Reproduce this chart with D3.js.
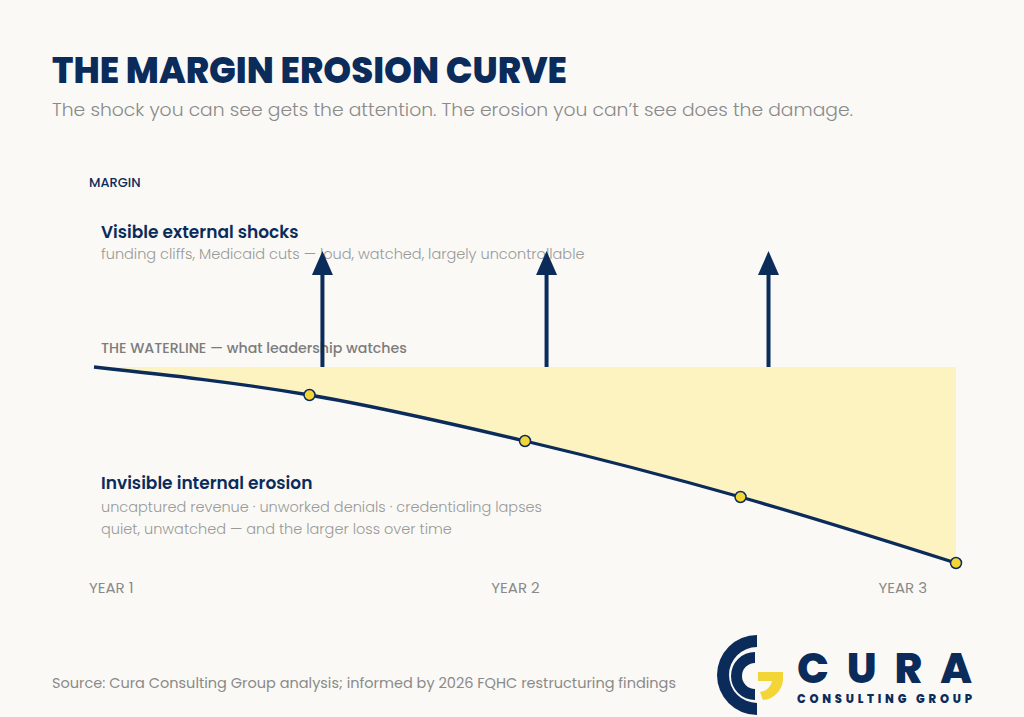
<!DOCTYPE html>
<html>
  <head>
    <meta charset="UTF-8">
    <script src="https://cdn.jsdelivr.net/npm/d3@7"></script>
    <style>
      html, body { margin: 0; padding: 0; background: #faf9f5; }
      svg { display: block; font-family: Poppins, Inter, "Noto Sans", sans-serif; }
    </style>
  </head>
  <body>
    <svg id="chart" width="1024" height="717"></svg>
    <script type="text/javascript">
      // data
      var years = [1, 1.5, 2, 2.5, 3];
      var margin = [0, -0.7, -1.85, -3.25, -4.9];   // drop below the waterline
      var shockYears = [1.53, 2.05, 2.565];
      var shockSize = [2.9, 2.9, 2.9];
      var yearTicks = [1, 2, 3];
      var yearLabels = ['YEAR 1', 'YEAR 2', 'YEAR 3'];

      var navy = '#0b2b5b';
      var grey = '#8a8a8a';

      var svg = d3.select('#chart');

      var x = d3.scaleLinear().domain([1, 3]).range([94, 956]);
      var y = d3.scaleLinear().domain([-5, 0]).range([567, 367]);

      var pts = years.map(function(d, i) { return { x: d, v: margin[i] }; });

      // title block
      svg.append('text').attr('x', 52).attr('y', 83)
        .attr('font-size', 36).attr('font-weight', 800).attr('fill', navy)
        .attr('textLength', 515).attr('lengthAdjust', 'spacingAndGlyphs')
        .text('THE MARGIN EROSION CURVE');
      svg.append('text').attr('x', 52).attr('y', 116)
        .attr('font-size', 18).attr('font-weight', 300).attr('fill', grey)
        .attr('textLength', 801).attr('lengthAdjust', 'spacingAndGlyphs')
        .text('The shock you can see gets the attention. The erosion you can\u2019t see does the damage.');

      svg.append('text').attr('x', 89).attr('y', 187)
        .attr('font-size', 13).attr('font-weight', 500).attr('fill', navy)
        .text('MARGIN');

      // erosion area between waterline and curve
      var area = d3.area()
        .x(function(d) { return x(d.x); })
        .y0(y(0))
        .y1(function(d) { return y(d.v); })
        .curve(d3.curveMonotoneX);
      svg.append('path').datum(pts)
        .attr('d', area)
        .attr('fill', '#fdf3c0');

      // labels
      svg.append('text').attr('x', 101).attr('y', 238)
        .attr('font-size', 17).attr('font-weight', 600).attr('fill', navy)
        .text('Visible external shocks');
      svg.append('text').attr('x', 101).attr('y', 259)
        .attr('font-size', 14.5).attr('font-weight', 300).attr('fill', '#999')
        .text('funding cliffs, Medicaid cuts \u2014 loud, watched, largely uncontrollable');
      svg.append('text').attr('x', 101).attr('y', 353)
        .attr('font-size', 14.2).attr('font-weight', 500).attr('fill', '#7c7c7c')
        .text('THE WATERLINE \u2014 what leadership watches');

      svg.append('text').attr('x', 101).attr('y', 489)
        .attr('font-size', 17).attr('font-weight', 600).attr('fill', navy)
        .text('Invisible internal erosion');
      svg.append('text').attr('x', 101).attr('y', 512)
        .attr('font-size', 14.5).attr('font-weight', 300).attr('fill', '#999')
        .text('uncaptured revenue \u00b7 unworked denials \u00b7 credentialing lapses');
      svg.append('text').attr('x', 101).attr('y', 534)
        .attr('font-size', 14.5).attr('font-weight', 300).attr('fill', '#999')
        .text('quiet, unwatched \u2014 and the larger loss over time');

      // shock arrows
      var arrows = svg.selectAll('g.shock')
        .data(shockYears.map(function(d, i) { return { x: d, v: shockSize[i] }; }))
        .enter().append('g').attr('class', 'shock');
      arrows.append('line')
        .attr('x1', function(d) { return x(d.x); })
        .attr('x2', function(d) { return x(d.x); })
        .attr('y1', y(0))
        .attr('y2', function(d) { return y(d.v) + 20; })
        .attr('stroke', navy).attr('stroke-width', 4);
      arrows.append('path')
        .attr('d', function(d) {
          var cx = x(d.x), tip = y(d.v);
          return 'M' + cx + ',' + tip + 'L' + (cx + 10.5) + ',' + (tip + 24) +
            'L' + (cx - 10.5) + ',' + (tip + 24) + 'Z';
        })
        .attr('fill', navy);

      // erosion curve
      var line = d3.line()
        .x(function(d) { return x(d.x); })
        .y(function(d) { return y(d.v); })
        .curve(d3.curveMonotoneX);
      svg.append('path').datum(pts)
        .attr('d', line)
        .attr('fill', 'none').attr('stroke', navy).attr('stroke-width', 3.3);

      svg.selectAll('circle.pt').data(pts.slice(1))
        .enter().append('circle').attr('class', 'pt')
        .attr('cx', function(d) { return x(d.x); })
        .attr('cy', function(d) { return y(d.v); })
        .attr('r', 5.5)
        .attr('fill', '#f3d537').attr('stroke', navy).attr('stroke-width', 1.5);

      // year axis labels
      var anchors = ['start', 'middle', 'end'];
      var offsets = [-5, -9.5, -29];
      svg.selectAll('text.year').data(yearTicks)
        .enter().append('text').attr('class', 'year')
        .attr('x', function(d, i) { return x(d) + offsets[i]; })
        .attr('y', 593)
        .attr('text-anchor', function(d, i) { return anchors[i]; })
        .attr('font-size', 15).attr('fill', grey)
        .text(function(d, i) { return yearLabels[i]; });

      // source
      svg.append('text').attr('x', 52).attr('y', 688)
        .attr('font-size', 14.5).attr('fill', grey)
        .text('Source: Cura Consulting Group analysis; informed by 2026 FQHC restructuring findings');

      // logo
      var logo = svg.append('g');
      var arcO = d3.arc().innerRadius(28).outerRadius(40).startAngle(Math.PI).endAngle(2 * Math.PI);
      var arcI = d3.arc().innerRadius(13).outerRadius(24).startAngle(Math.PI).endAngle(2 * Math.PI);
      logo.append('path').attr('d', arcO()).attr('transform', 'translate(757,675)').attr('fill', navy);
      logo.append('path').attr('d', arcI()).attr('transform', 'translate(755,676)').attr('fill', navy);
      logo.append('path')
        .attr('d', 'M758,672H783V680A22,22 0 0 1 763,700L760,692A13,13 0 0 0 772,681H758Z')
        .attr('fill', '#f3d537');
      logo.append('text').attr('x', 797).attr('y', 683)
        .attr('font-size', 42).attr('font-weight', 800).attr('fill', navy)
        .attr('textLength', 175).attr('lengthAdjust', 'spacing')
        .text('CURA');
      logo.append('text').attr('x', 797).attr('y', 703)
        .attr('font-size', 11.5).attr('font-weight', 800).attr('fill', navy)
        .attr('textLength', 175).attr('lengthAdjust', 'spacing')
        .text('CONSULTING GROUP');
    </script>
  </body>
</html>
